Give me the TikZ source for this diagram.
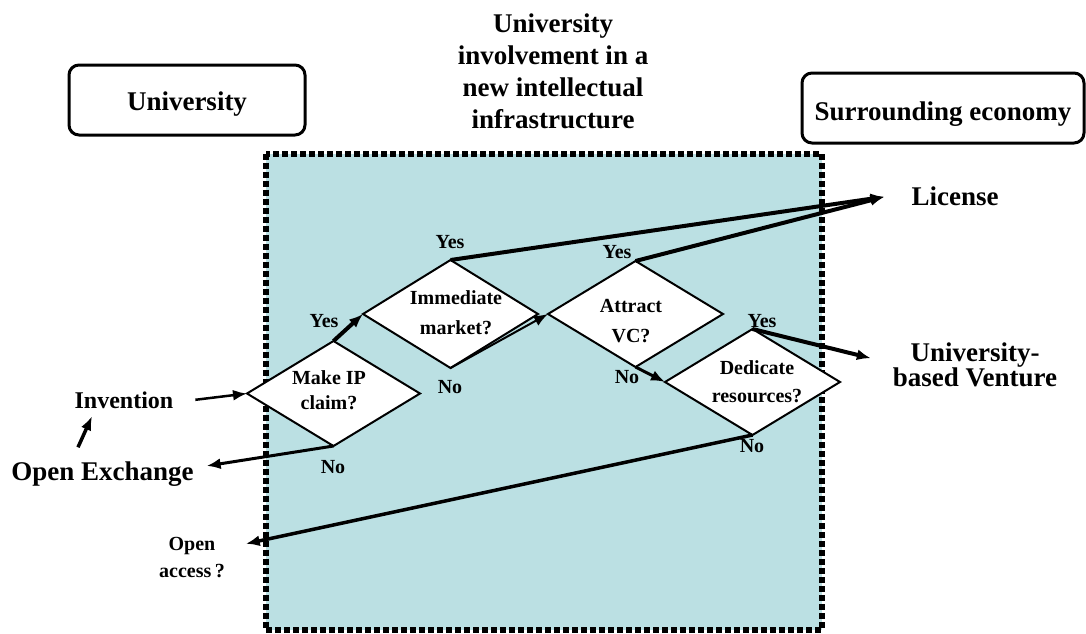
\documentclass[tikz,border=0pt]{standalone}
\usepackage{fontspec}
\setmainfont{Liberation Serif}
\usetikzlibrary{shapes.geometric,arrows.meta,calc}
\definecolor{zonefill}{RGB}{187,224,227}
\begin{document}
\begin{tikzpicture}[x=1pt,y=-1pt,
  big/.style={font=\fontsize{27}{31.7}\selectfont\bfseries, inner sep=0pt, outer sep=0pt, align=center},
  mid/.style={font=\fontsize{24}{28}\selectfont\bfseries, inner sep=0pt, outer sep=0pt},
  small/.style={font=\fontsize{20}{24}\selectfont\bfseries, inner sep=0pt, outer sep=0pt, align=center},
  decision/.style={diamond, draw, fill=white, line width=2pt, inner sep=0pt, outer sep=0pt},
  frame/.style={draw, fill=white, rounded corners=10pt, line width=3pt, inner sep=0pt, outer sep=0pt},
  flow/.style={line width=2.5pt, -{Latex[length=14pt,width=11pt]}},
  heavy/.style={flow, line width=4pt},
]
\useasboundingbox (0,0) rectangle (1086,633);

% shaded zone of university involvement
\fill[zonefill] (265.5,153.5) rectangle (821.5,630);
\draw[line width=6pt, dash pattern=on 6pt off 3pt] (265.5,153.5) rectangle (821.5,630);

% headings
\node[frame, big, minimum width=236pt, minimum height=70pt, text height=20pt, text depth=0pt] (univ) at (187,100) {University};
\node[frame, big, minimum width=282pt, minimum height=70pt, text height=24pt, text depth=0pt] (econ) at (943,108) {Surrounding economy};
\node[big] (title) at (553,71.3) {University\\involvement in a\\new intellectual\\infrastructure};

% decisions
\node[decision, minimum width=173pt, minimum height=105pt] (mip) at (333.5,393.5) {};
\node[decision, minimum width=175pt, minimum height=108pt] (imm) at (450.5,314) {};
\node[decision, minimum width=175pt, minimum height=106pt] (avc) at (635.5,314) {};
\node[decision, minimum width=175pt, minimum height=106pt] (ded) at (752.5,382) {};

\node[small, font=\fontsize{20}{25}\selectfont\bfseries] (mipt) at (329,390.5) {Make IP\\claim?};
\node[small, font=\fontsize{20}{30}\selectfont\bfseries] (immt) at (456,313) {Immediate\\market?};
\node[small, font=\fontsize{20}{30}\selectfont\bfseries] (avct) at (631,321) {Attract\\VC?};
\node[small, font=\fontsize{20}{28}\selectfont\bfseries] (dedt) at (757,382) {Dedicate\\resources?};

% answers
\node[small, anchor=base] (mipy) at (324,327) {Yes};
\node[small, anchor=base] (mipn) at (333,473) {No};
\node[small, anchor=base] (immy) at (450,248) {Yes};
\node[small, anchor=base] (immn) at (450,393) {No};
\node[small, anchor=base] (avcy) at (617,258) {Yes};
\node[small, anchor=base] (avcn) at (627,383) {No};
\node[small, anchor=base] (dedy) at (762,327) {Yes};
\node[small, anchor=base] (dedn) at (752,452) {No};

% outcomes
\node[big, anchor=base] (lic) at (955,205) {License};
\node[big, font=\fontsize{27}{25}\selectfont\bfseries] (ven) at (975,365.2) {University-\\based Venture};
\node[mid, anchor=base] (inv) at (124,408) {Invention};
\node[big, anchor=base] (oex) at (102.5,480) {Open Exchange};
\node[small, font=\fontsize{20}{27}\selectfont\bfseries] (oacc) at (192,557.5) {Open\\access\,?};

% connectors
\draw[flow] ([xshift=22pt]inv.east) -- (mip.west);
\draw[flow, line width=3.5pt] ($(oex.north)+(-24.5,-14)$) -- ($(inv.south)+(-32,8)$);
\draw[heavy] (mip.north) -- (imm.west);
\draw[heavy] (imm.north) -- ([xshift=-27pt,yshift=-1pt]lic.west);
\draw[heavy] (avc.north) -- ([xshift=-27pt,yshift=-1pt]lic.west);
\draw[flow, line width=2pt] (imm.south) -- (avc.west);
\draw[flow, line width=3pt] (avc.south) -- (ded.west);
\draw[heavy] (ded.north) -- ([xshift=-22pt,yshift=7pt]ven.west);
\draw[flow, line width=3pt] (mip.south) -- ([xshift=13pt,yshift=7.7pt]oex.east);
\draw[flow, line width=3.5pt] (ded.south) -- ([xshift=21pt,yshift=13.7pt]oacc.east);
\end{tikzpicture}
\end{document}
